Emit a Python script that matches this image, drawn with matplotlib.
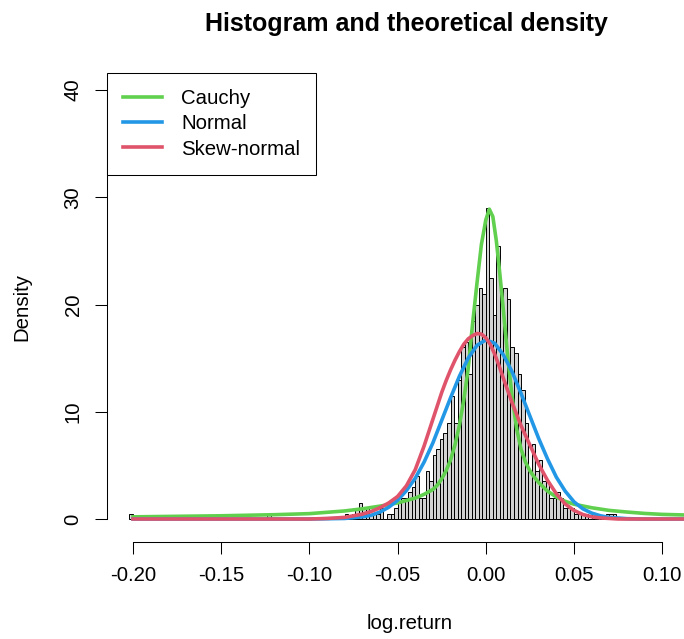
import numpy as np
import matplotlib
matplotlib.use("Agg")
import matplotlib.pyplot as plt

plt.rcParams['font.family'] = ['Liberation Sans', 'DejaVu Sans']

# ---------------- data ----------------
# histogram: density of each 0.002-wide bin, first bin starts at -0.202
hist_start = -0.202
bin_width = 0.002
hist_density = (
    [0.5] + [0.0] * 38 + [0.5] + [0.0] * 21
    + [0.5, 0.0, 0.5, 1.0, 1.5, 1.0, 1.0, 0.5, 0.5, 0.5,
       1.0, 0.0, 0.5, 0.5, 1.0, 1.5, 2.0, 2.0, 2.5, 3.0,
       4.0, 2.0, 2.0, 4.5, 3.5, 6.0, 6.5, 7.5, 8.0, 9.0,
       11.5, 9.0, 13.0, 16.0, 16.5, 13.5, 18.5, 20.0, 21.5, 21.0]
    + [29.0, 22.5, 19.0, 25.5, 20.5, 21.5, 20.5, 16.0, 15.5, 13.5,
       12.0, 9.0, 4.5, 7.0, 4.5, 5.5, 3.5, 3.5, 2.0, 2.0,
       2.5, 2.0, 1.0, 1.0, 1.0, 0.5, 0.5, 0.5, 0.5, 0.0,
       0.5, 0.0, 0.0, 0.0, 0.5, 0.5, 0.5]
    + [0.0] * 28
)

cauchy_x = [-0.20, -0.15, -0.12, -0.10, -0.08, -0.07, -0.06, -0.05, -0.04, -0.035,
            -0.03, -0.0275, -0.025, -0.0225, -0.02, -0.0175, -0.015, -0.0125, -0.01,
            -0.0075, -0.005, -0.0025, 0.0, 0.002, 0.004, 0.006, 0.008, 0.010, 0.0125,
            0.015, 0.0175, 0.020, 0.0225, 0.025, 0.0275, 0.030, 0.035, 0.040, 0.045,
            0.050, 0.060, 0.070, 0.080, 0.090, 0.100, 0.130]
cauchy_y = [0.2, 0.3, 0.4, 0.5, 0.75, 0.95, 1.2, 1.5, 1.95, 2.3,
            2.75, 3.15, 3.75, 4.5, 5.5, 6.9, 8.7, 11.1, 14.0,
            18.2, 22.0, 25.6, 27.9, 28.9, 28.2, 25.9, 22.8, 19.4, 15.0,
            11.3, 8.4, 6.5, 5.3, 4.5, 3.9, 3.4, 2.6, 2.05, 1.65,
            1.38, 1.05, 0.8, 0.65, 0.52, 0.43, 0.3]

normal_x = [-0.20, -0.10, -0.08, -0.07, -0.065, -0.06, -0.055, -0.05, -0.045, -0.04,
            -0.035, -0.03, -0.025, -0.02, -0.015, -0.01, -0.005, 0.0, 0.005, 0.01,
            0.015, 0.02, 0.025, 0.03, 0.035, 0.04, 0.045, 0.05, 0.055, 0.06,
            0.065, 0.07, 0.08, 0.09, 0.13]
normal_y = [0.0, 0.0, 0.05, 0.2, 0.35, 0.65, 1.1, 1.75, 2.65, 3.8,
            5.3, 7.1, 9.2, 11.3, 13.3, 15.0, 16.2, 16.7, 16.4, 15.3,
            13.7, 11.7, 9.6, 7.5, 5.6, 3.9, 2.6, 1.6, 0.95, 0.55,
            0.3, 0.15, 0.03, 0.0, 0.0]

skew_x = [-0.20, -0.10, -0.09, -0.08, -0.075, -0.07, -0.065, -0.06, -0.055, -0.05,
          -0.045, -0.04, -0.035, -0.03, -0.025, -0.0225, -0.02, -0.0175, -0.015, -0.0125,
          -0.01, -0.0075, -0.005, -0.0025, 0.0, 0.0025, 0.005, 0.0075, 0.01, 0.015,
          0.02, 0.025, 0.03, 0.035, 0.04, 0.045, 0.05, 0.055, 0.06, 0.065,
          0.075, 0.13]
skew_y = [0.0, 0.0, 0.05, 0.15, 0.3, 0.45, 0.7, 1.05, 1.5, 2.1,
          3.1, 4.6, 6.8, 9.3, 11.8, 12.9, 13.9, 14.8, 15.6, 16.3,
          16.8, 17.1, 17.3, 17.25, 16.9, 16.3, 15.4, 14.3, 13.1, 10.8,
          8.7, 6.9, 5.1, 3.6, 2.35, 1.4, 0.8, 0.42, 0.2, 0.1,
          0.0, 0.0]

x_ticks = [-0.20, -0.15, -0.10, -0.05, 0.00, 0.05, 0.10]
x_tick_labels = ["-0.20", "-0.15", "-0.10", "-0.05", "0.00", "0.05", "0.10"]
y_ticks = [0, 10, 20, 30, 40]
y_tick_labels = ["0", "10", "20", "30", "40"]
legend_labels = ["Cauchy", "Normal", "Skew-normal"]
title = "Histogram and theoretical density"
x_label = "log.return"
y_label = "Density"

# ---------------- styles ----------------
C_GREEN = "#61D04F"
C_BLUE = "#2297E6"
C_RED = "#DF536B"
FS = 14.7

W, H = 684, 639
fig = plt.figure(figsize=(W / 100, H / 100), dpi=100)
left_px, right_px, top_px, bottom_px = 107, 712, 73, 541.5
ax = fig.add_axes([left_px / W, 1 - bottom_px / H,
                   (right_px - left_px) / W, (bottom_px - top_px) / H])
ax.set_xlim(-0.21474, 0.12823)
ax.set_ylim(-2.099, 41.60)

edges = hist_start + bin_width * np.arange(len(hist_density))
ax.bar(edges, hist_density, width=bin_width, align='edge', color='#D3D3D3',
       edgecolor='black', linewidth=0.7, zorder=2)

lw = 2.6
ax.plot(cauchy_x, cauchy_y, color=C_GREEN, lw=lw, zorder=3, label=legend_labels[0],
        solid_joinstyle='round')
ax.plot(normal_x, normal_y, color=C_BLUE, lw=lw, zorder=4, label=legend_labels[1],
        solid_joinstyle='round')
ax.plot(skew_x, skew_y, color=C_RED, lw=lw, zorder=5, label=legend_labels[2],
        solid_joinstyle='round')

for s in ['top', 'right']:
    ax.spines[s].set_visible(False)
ax.spines['left'].set_bounds(0, 40)
ax.spines['bottom'].set_bounds(-0.2, 0.1)
for s in ['left', 'bottom']:
    ax.spines[s].set_linewidth(0.75)

ax.set_xticks(x_ticks)
ax.set_xticklabels(x_tick_labels)
ax.set_yticks(y_ticks)
ax.set_yticklabels(y_tick_labels, rotation=90, va='center')
ax.tick_params(direction='out', length=8.6, width=0.75, labelsize=FS, pad=9)

ax.set_xlabel(x_label, fontsize=FS)
ax.xaxis.set_label_coords(0.5, -(614 - bottom_px) / (bottom_px - top_px))
ax.set_ylabel(y_label, fontsize=FS)
ax.yaxis.set_label_coords(-(left_px - 31.5) / (right_px - left_px), 0.5)

ax.set_title(title, fontsize=18, fontweight='bold', pad=0,
             y=(bottom_px - 31) / (bottom_px - top_px), x=0.495)

leg = ax.legend(loc='upper left', bbox_to_anchor=(0, 1), borderaxespad=0,
                fontsize=FS, frameon=True, fancybox=False, framealpha=1,
                edgecolor='black', handlelength=1.9, handletextpad=0.93,
                borderpad=0.8, labelspacing=0.3)
leg.get_frame().set_linewidth(0.75)
leg.set_zorder(10)

fig.savefig("out.png", dpi=100)
